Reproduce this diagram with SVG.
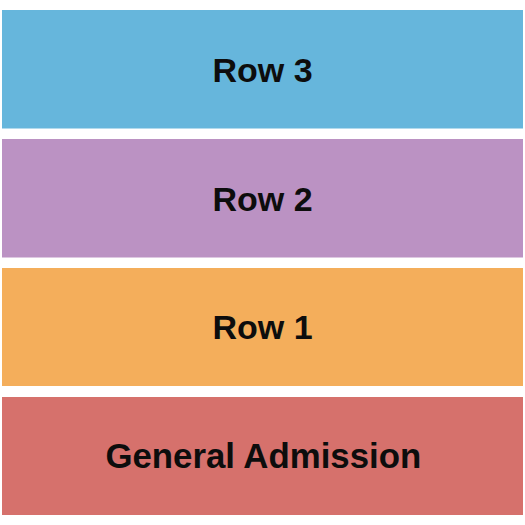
<svg xmlns="http://www.w3.org/2000/svg" width="525" height="525" viewBox="0 0 525 525">
<style>
.sec{stroke:none}
.lbl{font-family:"Liberation Sans",Arial,sans-serif;font-weight:bold;font-size:34px;fill:#0d0d0d;text-anchor:middle}
</style>
<rect width="525" height="525" fill="#ffffff"/>
<g id="row3"><rect class="sec" x="2" y="10" width="521" height="118.5" fill="#66B6DC"/><text class="lbl" x="262.5" y="81.8">Row 3</text></g>
<g id="row2"><rect class="sec" x="2" y="139" width="521" height="118.5" fill="#BB92C3"/><text class="lbl" x="262.5" y="210.8">Row 2</text></g>
<g id="row1"><rect class="sec" x="2" y="268" width="521" height="118" fill="#F4AE5B"/><text class="lbl" x="262.5" y="339.3">Row 1</text></g>
<g id="ga"><rect class="sec" x="2" y="397" width="521" height="118" fill="#D6716C"/><text class="lbl" x="263.3" y="468" style="font-size:34.8px">General Admission</text></g>
<g id="connectors"/>
</svg>
